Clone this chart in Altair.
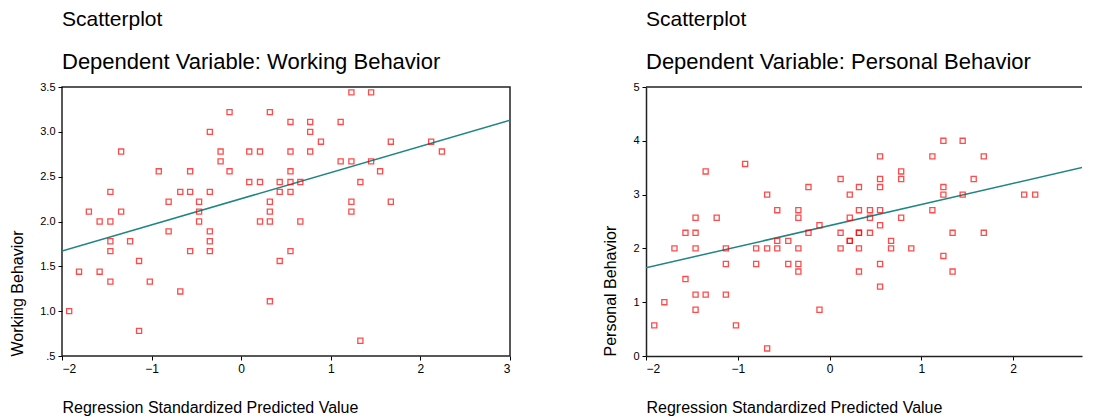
import altair as alt
import pandas as pd

# ---- Left panel: Working Behavior ----
left_x = [-1.92, -1.81, -1.70, -1.58, -1.58, -1.46, -1.46, -1.46, -1.46, -1.46,
          -1.34, -1.34, -1.24, -1.14, -1.14, -1.02, -0.92, -0.81, -0.81, -0.68,
          -0.68, -0.57, -0.57, -0.57, -0.47, -0.47, -0.47, -0.35, -0.35, -0.35,
          -0.35, -0.35, -0.23, -0.23, -0.13, -0.13, 0.09, 0.09, 0.21, 0.21,
          0.21, 0.32, 0.32, 0.32, 0.32, 0.32, 0.43, 0.43, 0.43, 0.55,
          0.55, 0.55, 0.55, 0.55, 0.55, 0.66, 0.66, 0.77, 0.77, 0.77,
          0.89, 1.11, 1.11, 1.23, 1.23, 1.23, 1.23, 1.33, 1.33, 1.45,
          1.45, 1.55, 1.67, 1.67, 2.12, 2.24]
left_y = [1.00, 1.44, 2.11, 2.00, 1.44, 2.33, 2.00, 1.78, 1.67, 1.33,
          2.11, 2.78, 1.78, 1.56, 0.78, 1.33, 2.56, 2.22, 1.89, 2.33,
          1.22, 2.56, 2.33, 1.67, 2.22, 2.11, 2.00, 3.00, 2.33, 1.89,
          1.78, 1.67, 2.78, 2.67, 3.22, 2.56, 2.78, 2.44, 2.78, 2.44,
          2.00, 3.22, 2.22, 2.11, 2.00, 1.11, 2.44, 2.33, 1.56, 3.11,
          2.78, 2.56, 2.44, 2.33, 1.67, 2.44, 2.00, 3.11, 3.00, 2.78,
          2.89, 3.11, 2.67, 3.44, 2.67, 2.22, 2.11, 2.44, 0.67, 3.44,
          2.67, 2.56, 2.89, 2.22, 2.89, 2.78]
left_line_x = [-2.0, 3.0]
left_line_y = [1.67, 3.13]
left_yticks = [0.5, 1.0, 1.5, 2.0, 2.5, 3.0, 3.5]

# ---- Right panel: Personal Behavior ----
right_x = [-1.91, -1.80, -1.69, -1.57, -1.57, -1.46, -1.46, -1.46, -1.46, -1.46,
           -1.35, -1.35, -1.23, -1.13, -1.13, -1.13, -1.02, -0.92, -0.80, -0.80,
           -0.68, -0.68, -0.68, -0.57, -0.57, -0.57, -0.45, -0.45, -0.34, -0.34,
           -0.34, -0.34, -0.34, -0.23, -0.23, -0.11, -0.11, 0.12, 0.12, 0.12,
           0.22, 0.22, 0.22, 0.22, 0.32, 0.32, 0.32, 0.32, 0.32, 0.32,
           0.44, 0.44, 0.44, 0.55, 0.55, 0.55, 0.55, 0.55, 0.55, 0.55,
           0.67, 0.67, 0.78, 0.78, 0.78, 0.89, 1.12, 1.12, 1.24, 1.24,
           1.24, 1.24, 1.34, 1.34, 1.45, 1.45, 1.57, 1.68, 1.68, 2.12, 2.24]
right_y = [0.57, 1.00, 2.00, 2.29, 1.43, 2.57, 2.29, 2.00, 1.14, 0.86,
           3.43, 1.14, 2.57, 2.00, 1.71, 1.14, 0.57, 3.57, 2.00, 1.71,
           3.00, 2.00, 0.14, 2.71, 2.14, 2.00, 2.14, 1.71, 2.71, 2.57,
           2.00, 1.71, 1.57, 3.14, 2.29, 2.43, 0.86, 3.29, 2.29, 2.00,
           3.00, 2.57, 2.14, 2.14, 3.14, 2.71, 2.29, 2.29, 2.00, 1.57,
           2.71, 2.57, 2.29, 3.71, 3.29, 3.14, 2.71, 2.43, 1.71, 1.29,
           2.14, 2.00, 3.43, 3.29, 2.57, 2.00, 3.71, 2.71, 4.00, 3.14,
           3.00, 1.86, 2.29, 1.57, 4.00, 3.00, 3.29, 3.71, 2.29, 3.00, 3.00]
right_line_x = [-2.0, 3.0]
right_line_y = [1.64, 3.60]
right_yticks = [0, 1, 2, 3, 4, 5]

xticks = [-2, -1, 0, 1, 2, 3]

FONT = "Liberation Sans"
RED = "#ff0000"
TEAL = "#1f8585"


def panel(px, py, lx, ly, ydomain, yticks, ylabel_expr, ytitle, subtitle,
          xdomain, width, framed):
    pts = pd.DataFrame({"x": px, "y": py})
    ln = pd.DataFrame({"x": lx, "y": ly})
    xs = alt.Scale(domain=xdomain, nice=False, zero=False)
    ys = alt.Scale(domain=ydomain, nice=False, zero=False)
    xax = alt.Axis(values=[v for v in xticks if xdomain[0] <= v <= xdomain[1]],
                   format="d", title="Regression Standardized Predicted Value",
                   titleAnchor="start", titlePadding=25, labelFontSize=12,
                   domain=not framed, domainColor="#222", domainWidth=1.5)
    yax = alt.Axis(values=yticks, labelExpr=ylabel_expr, title=ytitle,
                   titleAnchor="start", titlePadding=14, labelFontSize=11,
                   domain=not framed, domainColor="#222", domainWidth=1.5)
    line = alt.Chart(ln).mark_line(color=TEAL, strokeWidth=1.5, clip=True).encode(
        x=alt.X("x:Q", scale=xs, axis=xax),
        y=alt.Y("y:Q", scale=ys, axis=yax),
    )
    dots = alt.Chart(pts).mark_square(filled=False, color=RED, size=26,
                                      strokeWidth=1.3).encode(
        x=alt.X("x:Q", scale=xs),
        y=alt.Y("y:Q", scale=ys),
    )
    layers = [line, dots]
    if not framed:
        top = alt.Chart(pd.DataFrame({"y": [ydomain[1]]})).mark_rule(
            color="#222", strokeWidth=1.5).encode(y=alt.Y("y:Q", scale=ys))
        layers.append(top)
    view = (alt.ViewBackground(stroke="#222", strokeWidth=1.5) if framed
            else alt.ViewBackground(stroke="transparent"))
    return alt.layer(*layers).properties(
        width=width, height=269, view=view,
        title=alt.TitleParams(text="Scatterplot", subtitle=subtitle,
                              anchor="start", frame="group", font=FONT,
                              fontSize=21, fontWeight="normal", color="black",
                              subtitleFont=FONT, subtitleFontSize=22,
                              subtitleColor="black", subtitlePadding=22,
                              offset=8),
    )


left = panel(left_x, left_y, left_line_x, left_line_y, [0.5, 3.5], left_yticks,
             "datum.value == 0.5 ? '.5' : format(datum.value, '.1f')",
             "Working Behavior", "Dependent Variable: Working Behavior",
             [-2, 3], 448, True)
right = panel(right_x, right_y, right_line_x, right_line_y, [0, 5], right_yticks,
              "format(datum.value, 'd')",
              "Personal Behavior", "Dependent Variable: Personal Behavior",
              [-2, 2.75], 436, False)

chart = alt.hconcat(left, right, spacing=90).properties(
    padding={"left": 0, "top": 0, "right": 0, "bottom": 0}
).configure_axis(
    labelFont=FONT, titleFont=FONT, titleFontSize=16, titleFontWeight="normal",
    labelColor="black", titleColor="black", tickColor="black", tickSize=4,
    grid=False, labelPadding=3,
).configure_view(stroke="transparent")

chart.save("out.html", embed_options={"renderer": "svg", "actions": False})
